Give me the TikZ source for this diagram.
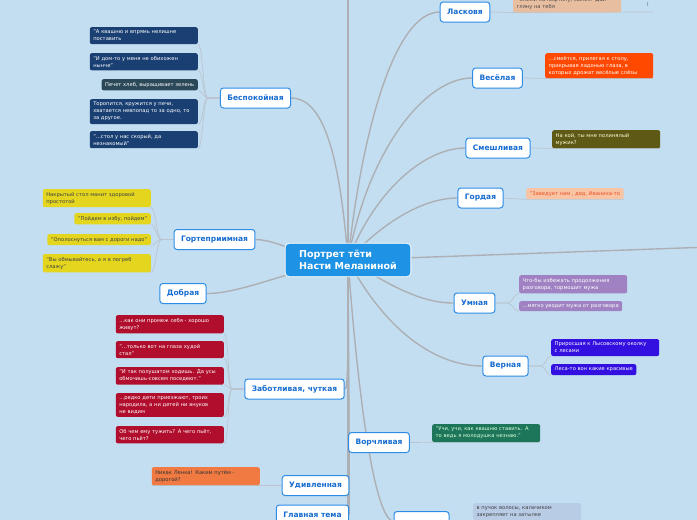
\documentclass[tikz,border=0pt]{standalone}
\usepackage{fontspec}
\setmainfont{DejaVu Sans}
\usetikzlibrary{backgrounds}
\definecolor{paper}{RGB}{196,222,241}
\definecolor{hubblue}{RGB}{30,146,228}
\definecolor{branchblue}{RGB}{44,140,230}
\definecolor{branchtext}{RGB}{22,108,208}
\definecolor{limbgray}{RGB}{172,176,180}
\definecolor{twiggray}{RGB}{186,196,206}
\definecolor{navyleaf}{RGB}{26,64,115}
\definecolor{slateleaf}{RGB}{42,72,88}
\definecolor{yellowleaf}{RGB}{228,214,30}
\definecolor{redleaf}{RGB}{176,14,44}
\definecolor{orangeleaf}{RGB}{240,122,66}
\definecolor{peachleaf}{RGB}{232,190,160}
\definecolor{flameleaf}{RGB}{255,72,0}
\definecolor{oliveleaf}{RGB}{94,90,22}
\definecolor{salmonleaf}{RGB}{248,196,164}
\definecolor{salmontext}{RGB}{230,80,40}
\definecolor{lilacleaf}{RGB}{160,130,195}
\definecolor{violetleaf}{RGB}{52,16,224}
\definecolor{tealleaf}{RGB}{30,118,90}
\definecolor{mistleaf}{RGB}{184,204,230}
\tikzset{
  hub/.style={fill=hubblue, draw=white, line width=0.8pt, rounded corners=4pt,
    text=white, font=\fontsize{9.5}{12}\selectfont\bfseries, align=left,
    inner xsep=14pt, inner ysep=7pt},
  branch/.style={fill=white, draw=branchblue, line width=1pt, rounded corners=3pt,
    text=branchtext, font=\fontsize{7.5}{9}\selectfont\bfseries,
    minimum height=20pt, inner xsep=7pt},
  leaf/.style={rounded corners=2pt, font=\fontsize{5.2}{7}\selectfont, align=left,
    inner xsep=3.5pt, inner ysep=3pt},
  wide/.style={text width=101pt},
  leftleaf/.style={leaf, anchor=north east},
  rightleaf/.style={leaf, anchor=north west},
  limb/.style={draw=limbgray, line width=1.4pt},
  twig/.style={draw=twiggray, line width=0.7pt},
}
\begin{document}
\begin{tikzpicture}[x=1pt,y=-1pt]
  \useasboundingbox (0,0) rectangle (697,520);
  % centre
  \node[hub] (hub) at (348,260) {Портрет тёти\\Насти Меланиной};
  \coordinate (top) at (348,-10);
  \coordinate (foot) at (348,530);
  \coordinate (east) at (710,247);
  % right branches
  \node[branch] (lask) at (465,12) {Ласковя};
  \node[branch] (vesel) at (497.5,78) {Весёлая};
  \node[branch] (smesh) at (498,148) {Смешливая};
  \node[branch] (gord) at (480.5,198) {Гордая};
  \node[branch] (umn) at (474.5,303) {Умная};
  \node[branch] (vern) at (505.5,366) {Верная};
  \node[branch] (vorch) at (379,442.5) {Ворчливая};
  \node[branch, minimum width=55pt, anchor=north] (hair) at (421.5,511) {};
  % left branches
  \node[branch] (bespok) at (255.5,98) {Беспокойная};
  \node[branch] (gost) at (214.5,239.5) {Гортеприимная};
  \node[branch] (dobr) at (183,293.5) {Добрая};
  \node[branch] (zabot) at (294.5,389) {Заботливая, чуткая};
  \node[branch] (udiv) at (315.5,485.5) {Удивленная};
  \node[branch] (glav) at (312.5,515) {Главная тема};
  % leaves, left
  \node[leftleaf, wide, fill=navyleaf, text=white] (b1) at (198,27)
    {"А квашню и впрямь нелишне\\поставить};
  \node[leftleaf, wide, fill=navyleaf, text=white] (b2) at (198,53)
    {"И дом-то у меня не обихожен\\нынче"};
  \node[leftleaf, fill=slateleaf, text=white] (b3) at (198,79)
    {Печет хлеб, выращивает зелень};
  \node[leftleaf, wide, fill=navyleaf, text=white] (b4) at (198,99)
    {Торопится, кружится у печи,\\хватается невпопад то за одно, то\\за другое.};
  \node[leftleaf, wide, fill=navyleaf, text=white] (b5) at (198,131)
    {"...стол у нас скорый, да\\незнакомый"};
  \node[leftleaf, wide, fill=yellowleaf, text=black!75] (g1) at (151,189)
    {Накрытый стол манит здоровой\\простотой};
  \node[leftleaf, fill=yellowleaf, text=black!75] (g2) at (151,213)
    {"Пойдем в избу, пойдем"};
  \node[leftleaf, fill=yellowleaf, text=black!75] (g3) at (151,234)
    {"Ополоснуться вам с дороги надо"};
  \node[leftleaf, wide, fill=yellowleaf, text=black!75] (g4) at (151,254)
    {"Вы обмывайтесь, а я в погреб\\слажу"};
  \node[leftleaf, wide, fill=redleaf, text=white] (z1) at (224,315)
    {...как они промеж себя - хорошо\\живут?};
  \node[leftleaf, wide, fill=redleaf, text=white] (z2) at (224,341)
    {"...только вот на глаза худой\\стал"};
  \node[leftleaf, wide, fill=redleaf, text=white] (z3) at (224,367)
    {"И так полушатом ходишь. Да усы\\обмочишь-совсем поседеют."};
  \node[leftleaf, wide, fill=redleaf, text=white] (z4) at (224,393)
    {...редко дети приезжают, троих\\народила, а ни детей ни внуков\\не видим};
  \node[leftleaf, wide, fill=redleaf, text=white] (z5) at (224,426)
    {Об чем ему тужить? А чего пьёт,\\чего пьёт?};
  \node[leftleaf, wide, fill=orangeleaf, text=black!80] (u1) at (260,467)
    {Никак Ленка! Каким путём -\\дорогой?};
  % leaves, right
  \node[leaf, wide, anchor=south west, fill=peachleaf, text=black!70] (l1) at (513,12.5)
    {"Сними-ка кофтину, сынок! Дай\\гляну на тебя};
  \node[font=\fontsize{5.2}{7}\selectfont, text=black!70, inner sep=0pt] (excl) at (648,5) {!};
  \coordinate (laskend) at (653,12);
  \node[rightleaf, wide, fill=flameleaf, text=white] (v1) at (545,53)
    {...смеётся, прилегая к столу,\\прикрывая ладонью глаза, в\\которых дрожат весёлые слёзы};
  \node[rightleaf, wide, fill=oliveleaf, text=white!85!yellow] (s1) at (552,130)
    {На кой, ты мне полинялый\\мужик?};
  \node[rightleaf, fill=salmonleaf, text=salmontext] (o1) at (526,188)
    {"Заведует нам , дед, Иваниха-то};
  \node[rightleaf, wide, fill=lilacleaf, text=white] (m1) at (519,275)
    {Что-бы избежать продолжения\\разговора, тормошит мужа};
  \node[rightleaf, fill=lilacleaf, text=white] (m2) at (519,301)
    {...мягко уводит мужа от разговора};
  \node[rightleaf, wide, fill=violetleaf, text=white] (r1) at (551,339)
    {Приросшая к Лысовскому околку\\с лесами};
  \node[rightleaf, fill=violetleaf, text=white] (r2) at (551,364)
    {Леса-то вон какие красивые};
  \node[rightleaf, wide, fill=tealleaf, text=white!85!green] (w1) at (432,424)
    {"Учи, учи, как квашню ставить. А\\то ведь я молодушка незнаю."};
  \node[rightleaf, wide, fill=mistleaf, text=black!75] (p1) at (473,503)
    {в пучок волосы, калачиком\\закрепляет на затылке};
  % connectors
  \begin{scope}[on background layer]
    \fill[paper] (0,0) rectangle (697,520);
    \clip (0,0) rectangle (697,520);
    \draw[limb] (hub.center) -- (top);
    \draw[limb] (hub.center) -- (foot);
    \draw[limb] (hub.center) -- (east);
    \draw[limb] (hub.center) .. controls (362,130) and (395,12) .. (lask.west);
    \draw[limb] (hub.center) .. controls (368,150) and (425,78) .. (vesel.west);
    \draw[limb] (hub.center) .. controls (375,190) and (425,148) .. (smesh.west);
    \draw[limb] (hub.center) .. controls (385,220) and (425,198) .. (gord.west);
    \draw[limb] (hub.center) .. controls (390,285) and (420,303) .. (umn.west);
    \draw[limb] (hub.center) .. controls (385,330) and (435,366) .. (vern.west);
    \draw[limb] (hub.center) -- (vorch.west);
    \draw[limb] (hub.center) .. controls (356,370) and (372,518) .. (hair.west);
    \draw[limb] (hub.center) .. controls (340,160) and (325,98) .. (bespok.east);
    \draw[limb] (hub.center) .. controls (300,258) and (280,240) .. (gost.east);
    \draw[limb] (hub.center) .. controls (290,270) and (240,294) .. (dobr.east);
    \draw[limb] (hub.center) .. controls (348,370) and (348,389) .. (zabot.east);
    \draw[limb] (hub.center) -- (udiv.east);
    \draw[limb] (hub.center) -- (glav.east);
    \foreach \l in {b1,b2,b3,b4,b5}
      \draw[twig] (bespok.west) -- ++(-12,0) .. controls +(-5,0) and +(5,0) .. (\l.south east);
    \foreach \l in {g1,g2,g3,g4}
      \draw[twig] (gost.west) -- ++(-12,0) .. controls +(-5,0) and +(5,0) .. (\l.south east);
    \foreach \l in {z1,z2,z3,z4,z5}
      \draw[twig] (zabot.west) -- ++(-12,0) .. controls +(-5,0) and +(5,0) .. (\l.south east);
    \foreach \l in {m1,m2}
      \draw[twig] (umn.east) -- ++(12,0) .. controls +(5,0) and +(-5,0) .. (\l.south west);
    \foreach \l in {r1,r2}
      \draw[twig] (vern.east) -- ++(12,0) .. controls +(5,0) and +(-5,0) .. (\l.south west);
    \draw[twig] (udiv.west) -- (u1.south east) -- (u1.south west);
    \draw[twig] (lask.east) -- (l1.south west) -- (laskend);
    \draw[twig] (vesel.east) -- (v1.south west) -- (v1.south east);
    \draw[twig] (smesh.east) -- (s1.south west) -- (s1.south east);
    \draw[twig] (gord.east) -- (o1.south west) -- (o1.south east);
    \draw[twig] (vorch.east) -- (w1.south west) -- (w1.south east);
  \end{scope}
\end{tikzpicture}
\end{document}
